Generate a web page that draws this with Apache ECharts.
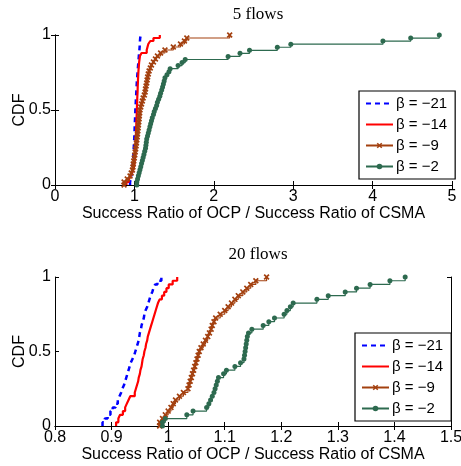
<!DOCTYPE html>
<html>
<head>
<meta charset="utf-8">
<script src="https://cdn.jsdelivr.net/npm/echarts@6/dist/echarts.min.js"></script>
<style>
  html, body { margin: 0; padding: 0; background: #fff; }
  #main { width: 461px; height: 466px; }
</style>
</head>
<body>
<div id="main"></div>
<script>
// legend names
var names = ['β = −21', 'β = −14', 'β = −9', 'β = −2'];
var titles = ['5 flows', '20 flows'];
var xTitle = 'Success Ratio of OCP / Success Ratio of CSMA';

// sorted samples, 5 flows
var top21 = [0.945,0.955,0.962,0.968,0.972,0.976,0.979,0.982,0.985,0.987,0.989,0.991,0.993,0.995,0.997,0.999,1.0,1.002,1.003,1.005,1.006,1.008,1.009,1.011,1.012,1.014,1.016,1.018,1.02,1.022,1.024,1.026,1.028,1.03,1.032,1.035,1.038,1.041,1.044,1.047,1.05,1.053,1.056,1.06,1.063,1.066,1.068,1.07,1.073,1.08];
var top14 = [0.90,0.93,0.95,0.97,0.985,0.995,1.0,1.003,1.006,1.009,1.011,1.013,1.015,1.016,1.017,1.018,1.02,1.021,1.022,1.024,1.025,1.027,1.028,1.03,1.031,1.032,1.034,1.035,1.036,1.038,1.04,1.041,1.042,1.044,1.045,1.047,1.049,1.051,1.054,1.057,1.06,1.065,1.07,1.09,1.155,1.165,1.175,1.2,1.24,1.32];
var top9 = [0.87,0.91,0.945,0.96,0.975,0.982,0.986,0.992,0.998,1.005,1.01,1.016,1.021,1.026,1.03,1.035,1.039,1.043,1.047,1.051,1.055,1.059,1.062,1.066,1.07,1.08,1.09,1.10,1.11,1.125,1.135,1.14,1.147,1.155,1.16,1.167,1.175,1.185,1.2,1.215,1.24,1.265,1.29,1.33,1.385,1.49,1.58,1.63,1.66,2.2];
var top2 = [1.03,1.04,1.05,1.06,1.07,1.08,1.09,1.10,1.11,1.12,1.13,1.14,1.145,1.15,1.155,1.165,1.175,1.185,1.195,1.205,1.215,1.225,1.24,1.25,1.265,1.28,1.29,1.305,1.32,1.33,1.344,1.355,1.365,1.375,1.385,1.41,1.435,1.45,1.55,1.6,1.64,2.18,2.33,2.45,2.8,2.97,4.13,4.48,4.84];

// 20 flows
var bot21 = [0.884,0.888,0.893,0.898,0.902,0.907,0.911,0.914,0.917,0.919,0.922,0.924,0.926,0.928,0.930,0.932,0.934,0.937,0.940,0.942,0.944,0.946,0.948,0.949,0.950,0.952,0.953,0.955,0.957,0.958,0.960,0.963,0.965,0.967,0.969,0.972,0.974,0.977,0.981,0.988];
var bot14 = [0.908,0.912,0.915,0.920,0.924,0.927,0.930,0.933,0.941,0.943,0.945,0.947,0.948,0.950,0.951,0.953,0.954,0.955,0.957,0.958,0.960,0.961,0.963,0.964,0.966,0.968,0.970,0.972,0.974,0.976,0.978,0.980,0.982,0.985,0.989,0.993,0.997,1.001,1.008,1.016];
var bot9 = [0.985,0.99,0.995,1.0,1.005,1.009,1.013,1.02,1.027,1.035,1.037,1.039,1.041,1.043,1.045,1.047,1.049,1.051,1.053,1.055,1.058,1.062,1.066,1.07,1.073,1.076,1.078,1.081,1.084,1.092,1.10,1.106,1.112,1.118,1.124,1.132,1.139,1.146,1.155,1.174];
var bot2 = [0.99,0.995,1.033,1.044,1.068,1.072,1.075,1.078,1.081,1.083,1.085,1.087,1.089,1.098,1.103,1.118,1.128,1.134,1.135,1.136,1.137,1.138,1.139,1.140,1.142,1.148,1.168,1.178,1.188,1.205,1.21,1.216,1.221,1.263,1.283,1.313,1.333,1.357,1.392,1.419];

// axis ticks
var topTicks = [0, 1, 2, 3, 4, 5];
var botTicks = [0.8, 0.9, 1, 1.1, 1.2, 1.3, 1.4, 1.5];
var yTicks = [0, 0.5, 1];

var sans = 'Liberation Sans, Arial, sans-serif';
var serif = 'Liberation Serif, Times New Roman, serif';
var colors = ['#0000ff', '#ff0000', '#a3400f', '#2d6a4f'];
var crossPath = 'path://M2,0L5,3L8,0L10,2L7,5L10,8L8,10L5,7L2,10L0,8L3,5L0,2Z';

// empirical cdf, starts at 0 on the first sample
function ecdf(xs) {
  var n = xs.length;
  var out = [[xs[0], 0]];
  for (var i = 0; i < n; i++) {
    out.push([xs[i], (i + 1) / n]);
  }
  return out;
}

function mkSeries(data, k, idx) {
  var s = {
    name: names[k],
    type: 'line',
    step: 'end',
    xAxisIndex: idx,
    yAxisIndex: idx,
    data: ecdf(data),
    color: colors[k],
    lineStyle: { color: colors[k], width: 1.2 },
    symbol: 'none',
    z: k + 2
  };
  if (k == 0) {
    s.lineStyle = { color: colors[k], width: 2.5, type: [5, 4] };
  } else if (k == 1) {
    s.lineStyle = { color: colors[k], width: 2.2 };
  } else if (k == 2) {
    s.symbol = crossPath;
    s.symbolSize = 6;
    s.showSymbol = true;
  } else {
    s.symbol = 'circle';
    s.symbolSize = 5;
    s.showSymbol = true;
  }
  return s;
}

// fixed plot boxes, no auto shrinking for labels
var grids = [
  { left: 55, top: 35, width: 397, height: 150, containLabel: false, outerBoundsMode: 'none' },
  { left: 55, top: 277, width: 396, height: 149, containLabel: false, outerBoundsMode: 'none' }
];

function xAxes(gi, ticks) {
  var min = ticks[0], max = ticks[ticks.length - 1];
  var iv = Math.round((ticks[1] - ticks[0]) * 10) / 10;
  var base = {
    type: 'value', gridIndex: gi, min: min, max: max, interval: iv,
    axisLine: { show: true, lineStyle: { color: '#000', width: 1 } },
    axisTick: { show: true, inside: true, length: 4, lineStyle: { color: '#000' } },
    splitLine: { show: false }
  };
  var bottom = Object.assign({}, base, {
    position: 'bottom',
    name: xTitle, nameLocation: 'middle', nameGap: 21, nameMoveOverlap: false,
    nameTextStyle: { fontFamily: sans, fontSize: 16, color: '#000' },
    axisLabel: {
      margin: 4, fontFamily: sans, fontSize: 16, color: '#000',
      formatter: function (v) { return String(Math.round(v * 10) / 10); }
    }
  });
  var top = Object.assign({}, base, { position: 'top', axisLabel: { show: false } });
  return [bottom, top];
}

function yAxes(gi) {
  var base = {
    type: 'value', gridIndex: gi, min: yTicks[0], max: yTicks[yTicks.length - 1], interval: 0.5,
    axisLine: { show: true, lineStyle: { color: '#000', width: 1 } },
    axisTick: { show: true, inside: true, length: 4, lineStyle: { color: '#000' } },
    splitLine: { show: false }
  };
  var left = Object.assign({}, base, {
    position: 'left',
    name: 'CDF', nameLocation: 'middle', nameGap: 27, nameRotate: 90, nameMoveOverlap: false,
    nameTextStyle: { fontFamily: sans, fontSize: 16, color: '#000' },
    axisLabel: { margin: 4, fontFamily: sans, fontSize: 16, color: '#000' }
  });
  var right = Object.assign({}, base, { position: 'right', axisLabel: { show: false } });
  return [left, right];
}

var xa = xAxes(0, topTicks).concat(xAxes(1, botTicks));
var ya = yAxes(0).concat(yAxes(1));

var series = [
  mkSeries(top21, 0, 0), mkSeries(top14, 1, 0), mkSeries(top9, 2, 0), mkSeries(top2, 3, 0),
  mkSeries(bot21, 0, 2), mkSeries(bot14, 1, 2), mkSeries(bot9, 2, 2), mkSeries(bot2, 3, 2)
];

// blue/red have no marker, hide the legend symbol for them
var legendData = names.map(function (nm, k) {
  if (k < 2) return { name: nm, itemStyle: { color: 'rgba(0,0,0,0)', borderWidth: 0 } };
  return { name: nm };
});

function mkLegend(left, top) {
  return {
    data: legendData, orient: 'vertical', left: left, top: top,
    itemWidth: 27, itemHeight: 7, itemGap: 6,
    padding: [5, 8, 5, 6],
    backgroundColor: '#fff', borderColor: '#000', borderWidth: 1.2,
    textStyle: { fontFamily: sans, fontSize: 15, color: '#000', padding: [0, 0, 0, -2] },
    selectedMode: false
  };
}

var chart = echarts.init(document.getElementById('main'), null, { renderer: 'canvas' });
chart.setOption({
  animation: false,
  title: [
    { text: titles[0], left: 253, top: 1, textAlign: 'center',
      textStyle: { fontFamily: serif, fontSize: 17, fontWeight: 'normal', color: '#000' } },
    { text: titles[1], left: 253, top: 241, textAlign: 'center',
      textStyle: { fontFamily: serif, fontSize: 17, fontWeight: 'normal', color: '#000' } }
  ],
  legend: [mkLegend(359, 91), mkLegend(355, 333)],
  grid: grids,
  xAxis: xa,
  yAxis: ya,
  series: series
});
</script>
</body>
</html>
